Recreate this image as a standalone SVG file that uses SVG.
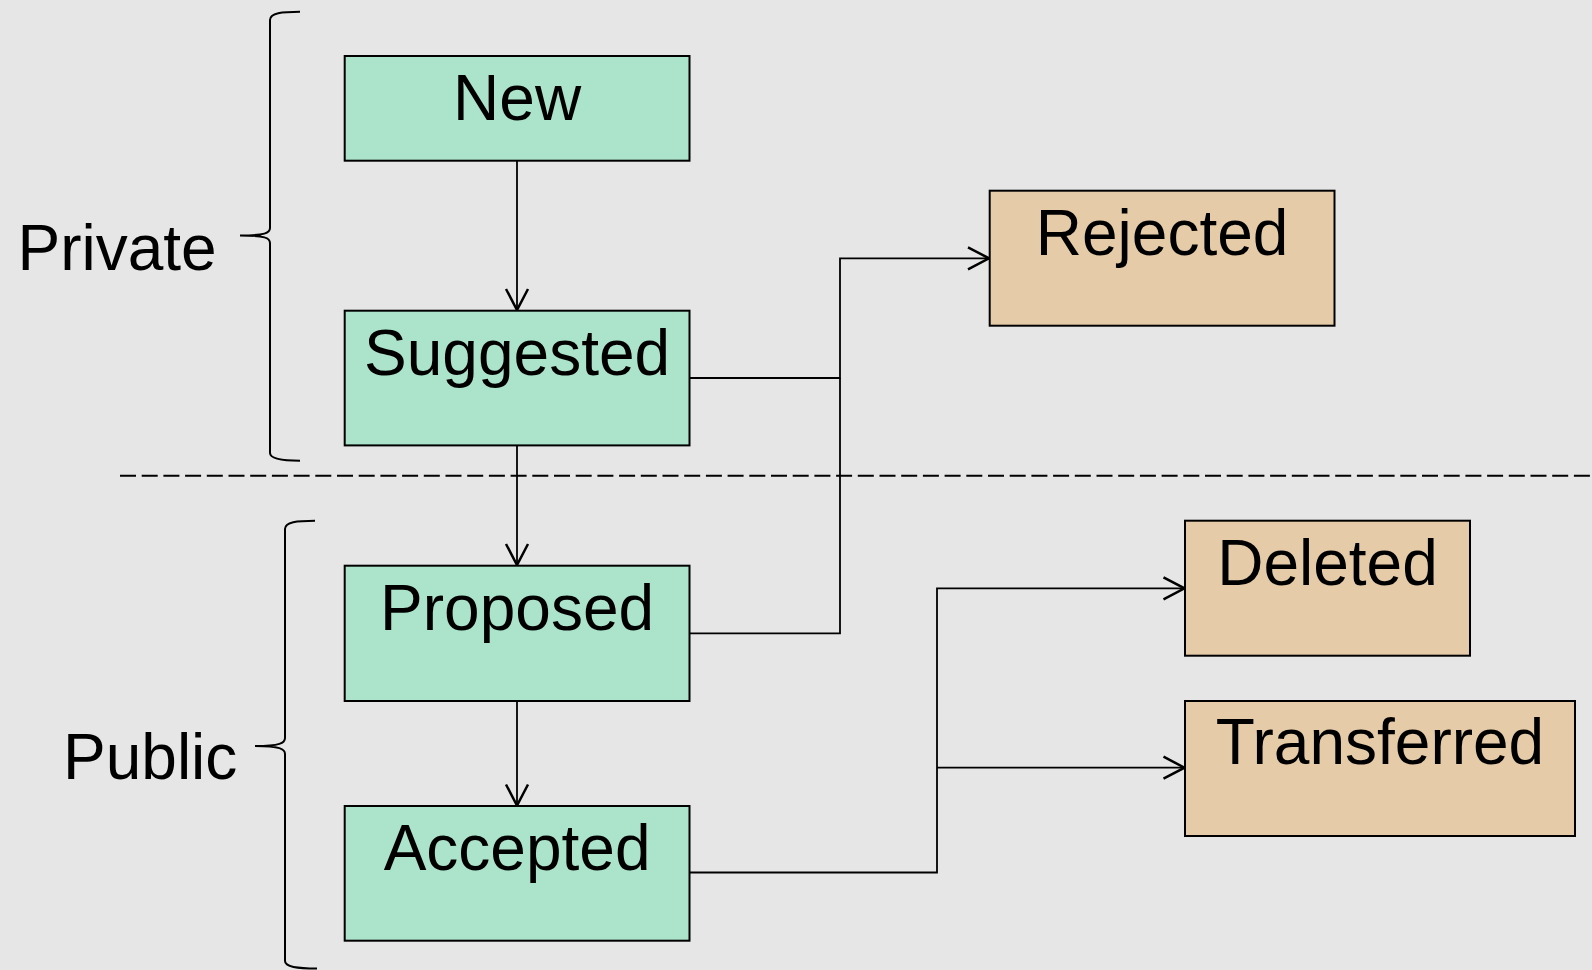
<svg xmlns="http://www.w3.org/2000/svg" width="1592" height="970" viewBox="0 0 1592 970">
<defs>
<marker id="arr" markerUnits="userSpaceOnUse" markerWidth="30" markerHeight="30" viewBox="-25 -15 30 30" refX="0" refY="0" orient="auto">
<path d="M-21,-11 L0,0 L-21,11" fill="none" stroke="#000" stroke-width="2.5"/>
</marker>
</defs>
<style>
.bg{fill:#E6E6E6}
.g rect{fill:#ABE3CB;stroke:#000;stroke-width:2}
.t rect{fill:#E6CBA8;stroke:#000;stroke-width:2}
text{font-family:"Liberation Sans",Arial,sans-serif;font-size:64px;fill:#000}
.c{text-anchor:middle}
.conn path{fill:none;stroke:#000;stroke-width:1.8}
.brace{fill:none;stroke:#000;stroke-width:2}
</style>
<rect class="bg" x="0" y="0" width="1592" height="970"/>

<g id="private-label">
<text x="17.5" y="270">Private</text>
<path class="brace" d="M300,11.7 C282,11.7 270,13 270,20 L270,228 C270,233 265,235.5 240,235.5 C265,235.5 270,238 270,243 L270,453 C270,459 282,460.7 300,460.7"/>
</g>
<g id="public-label">
<text x="63" y="779.3">Public</text>
<path class="brace" d="M315,520.7 C297,520.7 285,522 285,529 L285,738 C285,743 280,746 255,746 C280,746 285,749 285,754 L285,961 C285,967 297,968.5 317,968.5"/>
</g>

<g id="divider">
<line x1="120" y1="475.7" x2="1592" y2="475.7" stroke="#000" stroke-width="2" stroke-dasharray="16 5.7"/>
</g>

<g class="conn" id="connectors">
<path d="M517,161 V310" marker-end="url(#arr)"/>
<path d="M517,445.5 V565" marker-end="url(#arr)"/>
<path d="M517,701 V805.5" marker-end="url(#arr)"/>
<path d="M689.5,378 H840 V258.3 H989" marker-end="url(#arr)"/>
<path d="M689.5,633.3 H840 V378"/>
<path d="M689.5,872.5 H937 V588.3 H1184.5" marker-end="url(#arr)"/>
<path d="M937,767.7 H1184.5" marker-end="url(#arr)"/>
</g>

<g id="new" class="g">
<rect x="344.7" y="56" width="344.8" height="104.7"/>
<text class="c" x="517.1" y="119.5">New</text>
</g>
<g id="suggested" class="g">
<rect x="344.7" y="310.7" width="344.8" height="134.7"/>
<text class="c" x="517.1" y="374.7">Suggested</text>
</g>
<g id="proposed" class="g">
<rect x="344.7" y="565.7" width="344.8" height="135.3"/>
<text class="c" x="517.1" y="630">Proposed</text>
</g>
<g id="accepted" class="g">
<rect x="344.7" y="806" width="344.8" height="134.7"/>
<text class="c" x="517.1" y="870">Accepted</text>
</g>
<g id="rejected" class="t">
<rect x="989.7" y="190.7" width="344.8" height="135"/>
<text class="c" x="1162.1" y="255">Rejected</text>
</g>
<g id="deleted" class="t">
<rect x="1185" y="520.7" width="285" height="135"/>
<text class="c" x="1327.5" y="585">Deleted</text>
</g>
<g id="transferred" class="t">
<rect x="1185" y="701" width="390" height="135"/>
<text class="c" x="1380" y="764.3">Transferred</text>
</g>
</svg>
